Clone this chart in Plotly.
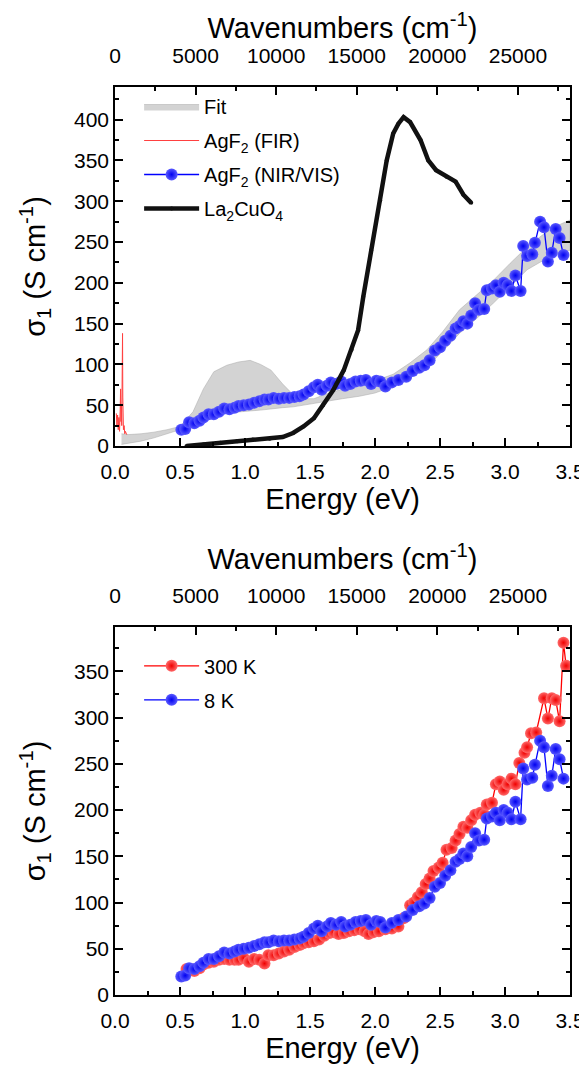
import plotly.graph_objects as go

EV_TO_CM = 8065.54
E_MAX = 3.5

# ---------------- Data ----------------
# Fit band (top panel)
fit_energy = [0.05, 0.1, 0.2, 0.3, 0.4, 0.5, 0.6, 0.68, 0.76, 0.86, 0.95, 1.04, 1.12, 1.2, 1.29,
              1.37, 1.45, 1.53, 1.63, 1.75, 1.88, 2.0, 2.14, 2.27, 2.40, 2.52, 2.65, 2.78, 2.91,
              3.04, 3.17, 3.3, 3.4, 3.5]
fit_upper = [15, 14, 15, 17, 20, 24, 42, 70, 91, 99, 103, 105, 100, 93, 76,
             63, 58, 58, 64, 70, 76, 80, 88, 102, 118, 140, 167, 185, 203,
             224, 244, 260, 270, 277]
fit_lower = [2, 3, 6, 10, 15, 20, 30, 36, 39, 41, 42, 43, 44, 45, 47,
             48, 50, 52, 55, 58, 61, 65, 73, 84, 97, 116, 138, 156, 175,
             195, 216, 228, 235, 240]

# AgF2 far-infrared
fir_energy = [0.010, 0.015, 0.020, 0.025, 0.030, 0.035, 0.040, 0.043, 0.046, 0.049, 0.052,
              0.055, 0.058, 0.060, 0.062, 0.065, 0.070, 0.075, 0.080, 0.090]
fir_sigma = [40, 25, 38, 20, 35, 18, 45, 70, 30, 50, 25, 90, 138, 60, 30, 20, 25, 15, 18, 14]

# AgF2 NIR/VIS, 8 K
nir_energy_8k = [0.51, 0.54, 0.57, 0.61, 0.65, 0.68, 0.72, 0.76, 0.80, 0.84, 0.88, 0.92, 0.95,
                 0.99, 1.03, 1.07, 1.11, 1.15, 1.18, 1.22, 1.26, 1.30, 1.34, 1.38, 1.42, 1.45,
                 1.49, 1.53, 1.56, 1.59, 1.63, 1.66, 1.70, 1.74, 1.77, 1.81, 1.85, 1.89, 1.93,
                 1.97, 2.01, 2.04, 2.08, 2.13, 2.18, 2.24, 2.29, 2.34, 2.38, 2.42, 2.46, 2.50,
                 2.54, 2.58, 2.62, 2.65, 2.68, 2.71, 2.74, 2.77, 2.80, 2.84, 2.86, 2.90, 2.93,
                 2.96, 2.99, 3.02, 3.05, 3.08, 3.12, 3.14, 3.17, 3.21, 3.23, 3.27, 3.30, 3.33,
                 3.36, 3.39, 3.42, 3.45]
nir_sigma_8k = [20, 21, 29, 28, 31, 35, 39, 39, 42, 46, 45, 47, 49,
                50, 51, 53, 55, 57, 57, 59, 58, 59, 59, 60, 61, 63,
                67, 72, 75, 69, 74, 78, 76, 79, 74, 76, 79, 80, 81,
                76, 80, 79, 73, 78, 81, 85, 92, 96, 99, 105, 117, 121,
                129, 135, 144, 147, 153, 150, 160, 175, 167, 168, 191, 193, 197,
                189, 200, 197, 190, 209, 190, 245, 233, 235, 249, 275, 268, 226,
                237, 266, 255, 234]

# AgF2 NIR/VIS, 300 K
nir_energy_300k = [0.55, 0.58, 0.61, 0.65, 0.68, 0.72, 0.76, 0.80, 0.84, 0.88, 0.92, 0.95, 0.99,
                   1.03, 1.07, 1.11, 1.15, 1.18, 1.22, 1.26, 1.30, 1.34, 1.38, 1.42, 1.45, 1.49,
                   1.53, 1.57, 1.61, 1.65, 1.68, 1.72, 1.76, 1.80, 1.84, 1.88, 1.92, 1.95, 1.99,
                   2.03, 2.08, 2.13, 2.18, 2.22, 2.27, 2.30, 2.33, 2.36, 2.39, 2.42, 2.45, 2.49,
                   2.52, 2.55, 2.59, 2.62, 2.65, 2.68, 2.71, 2.74, 2.77, 2.81, 2.84, 2.86, 2.90,
                   2.93, 2.96, 2.99, 3.02, 3.05, 3.08, 3.11, 3.15, 3.17, 3.20, 3.24, 3.30, 3.33,
                   3.36, 3.39, 3.42, 3.45, 3.47]
nir_sigma_300k = [28, 28, 26, 29, 33, 35, 36, 38, 39, 38, 38, 38, 40,
                  36, 39, 38, 34, 43, 43, 45, 47, 49, 52, 54, 56, 57,
                  58, 60, 64, 67, 68, 66, 67, 69, 70, 71, 69, 66, 68,
                  69, 71, 72, 74, 83, 97, 100, 106, 111, 120, 126, 134, 138,
                  143, 157, 159, 167, 174, 182, 181, 189, 195, 197, 195, 206, 208,
                  228, 231, 222, 228, 234, 228, 251, 262, 268, 283, 284, 321, 299,
                  321, 319, 296, 381, 356]

# La2CuO4 reference
la_energy = [0.55, 0.68, 0.81, 0.94, 1.06, 1.19, 1.29, 1.37, 1.45, 1.53, 1.60, 1.68, 1.76,
             1.82, 1.87, 1.91, 1.97, 2.04, 2.09, 2.14, 2.18, 2.22, 2.27, 2.35, 2.41, 2.47,
             2.55, 2.62, 2.68, 2.74]
la_sigma = [0, 2, 4, 6, 8, 9, 11, 16, 24, 34, 50, 69, 93,
            118, 142, 183, 240, 301, 350, 383, 395, 403, 397, 375, 350, 338,
            330, 324, 308, 298]

# ---------------- Figure ----------------
FONT = "Liberation Sans, Arial, sans-serif"
fig = go.Figure()

fig.add_trace(go.Scatter(
    x=fit_energy + fit_energy[::-1], y=fit_upper + fit_lower[::-1],
    fill="toself", fillcolor="#d3d3d3", mode="lines",
    line=dict(width=0.5, color="#a8a8a8"), name="Fit", legendgroup="g1",
    xaxis="x", yaxis="y", legend="legend", hoverinfo="skip"))

fig.add_trace(go.Scatter(
    x=fir_energy, y=fir_sigma, mode="lines", line=dict(color="#ff4040", width=1),
    name="AgF<sub>2</sub> (FIR)", legendgroup="g2", xaxis="x", yaxis="y", legend="legend"))

blue_marker = dict(size=12, color="#5a5aff", gradient=dict(type="radial", color="#0000f0"),
                   line=dict(width=0))
red_marker = dict(size=12, color="#ff6a6a", gradient=dict(type="radial", color="#f00000"),
                  line=dict(width=0))

fig.add_trace(go.Scatter(
    x=nir_energy_8k, y=nir_sigma_8k, mode="lines+markers",
    line=dict(color="#0000ff", width=1.3), marker=blue_marker,
    name="AgF<sub>2</sub> (NIR/VIS)", legendgroup="g3", xaxis="x", yaxis="y", legend="legend"))

fig.add_trace(go.Scatter(
    x=la_energy, y=la_sigma, mode="lines+markers",
    line=dict(color="#111111", width=4.5), marker=dict(size=4, color="#111111"),
    name="La<sub>2</sub>CuO<sub>4</sub>", legendgroup="g4", xaxis="x", yaxis="y", legend="legend"))

fig.add_trace(go.Scatter(
    x=nir_energy_300k, y=nir_sigma_300k, mode="lines+markers",
    line=dict(color="#ff0000", width=1.3), marker=red_marker,
    name="300 K", legendgroup="h1", xaxis="x2", yaxis="y2", legend="legend2"))
fig.add_trace(go.Scatter(
    x=nir_energy_8k, y=nir_sigma_8k, mode="lines+markers",
    line=dict(color="#0000ff", width=1.3), marker=blue_marker,
    name="8 K", legendgroup="h2", xaxis="x2", yaxis="y2", legend="legend2"))

wn_max = E_MAX * EV_TO_CM
fig.add_trace(go.Scatter(x=[0, wn_max], y=[None, None], xaxis="x3", yaxis="y",
                         showlegend=False, hoverinfo="skip", mode="lines"))
fig.add_trace(go.Scatter(x=[0, wn_max], y=[None, None], xaxis="x4", yaxis="y2",
                         showlegend=False, hoverinfo="skip", mode="lines"))

tickfont = dict(family=FONT, size=21, color="black")
titlefont = dict(family=FONT, size=29, color="black")
ytitlefont = dict(family=FONT, size=29, color="black")

def common():
    return dict(ticks="inside", ticklen=8, tickwidth=1.5, tickcolor="black",
                showline=True, linecolor="black", linewidth=1.5,
                showgrid=False, zeroline=False, automargin=False, tickfont=tickfont)

def xenergy(anchor):
    d = common()
    d.update(range=[0, E_MAX], dtick=0.5, tick0=0, tickformat=".1f", mirror=False,
             minor=dict(dtick=0.25, ticks="inside", ticklen=4, tickwidth=1.5, tickcolor="black"),
             anchor=anchor, ticklabelstandoff=6,
             title=dict(text="Energy (eV)", font=titlefont, standoff=2))
    return d

def xwn(over, anchor):
    d = common()
    d.update(range=[0, wn_max], dtick=5000, tick0=0, tickformat="d", overlaying=over,
             side="top", anchor=anchor, ticklabelstandoff=14,
             minor=dict(dtick=2500, ticks="inside", ticklen=4, tickwidth=1.5, tickcolor="black"),
             title=dict(text="Wavenumbers (cm<sup>-1</sup>)", font=titlefont, standoff=6))
    return d

def ysig(rng, domain):
    d = common()
    d.update(range=rng, dtick=50, tick0=0, domain=domain, mirror="ticks",
             minor=dict(dtick=25, ticks="inside", ticklen=4, tickwidth=1.5, tickcolor="black"),
             title=dict(text="σ<sub>1</sub> (S cm<sup>-1</sup>)", font=ytitlefont, standoff=20))
    return d

# The page adds an 8 px body margin, so the figure is offset by (8, 8) on the page.
fig.update_layout(
    template="none",
    width=579, height=1060,
    margin=dict(l=107, r=17, t=79, b=73),
    paper_bgcolor="white", plot_bgcolor="white",
    font=dict(family=FONT, color="black"),
    xaxis=xenergy("y"),
    xaxis2=xenergy("y2"),
    xaxis3=xwn("x", "y"),
    xaxis4=xwn("x2", "y2"),
    yaxis=ysig([0, 440], [0.6046, 1.0]),
    yaxis2=ysig([0, 398], [0.0, 0.4053]),
    legend=dict(x=0.053, y=1.0, xanchor="left", yanchor="top", bgcolor="rgba(0,0,0,0)",
                font=dict(family=FONT, size=20, color="black"), tracegroupgap=5,
                itemwidth=55),
    legend2=dict(x=0.053, y=0.384, xanchor="left", yanchor="top", bgcolor="rgba(0,0,0,0)",
                 font=dict(family=FONT, size=20, color="black"), tracegroupgap=5,
                 itemwidth=55),
    showlegend=True,
)

fig.write_html("out.html")
